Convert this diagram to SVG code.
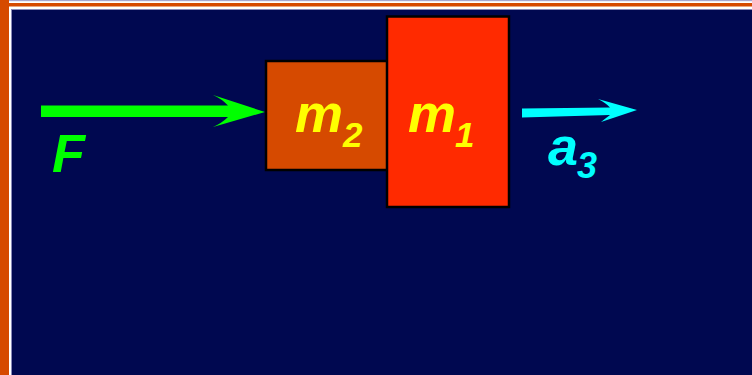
<svg xmlns="http://www.w3.org/2000/svg" width="752" height="375" viewBox="0 0 752 375">
  <style>
    .lbl { font-family: "Liberation Sans", Arial, sans-serif; font-weight: bold; font-style: italic; }
    .blk { stroke: #000000; stroke-width: 2.5; }
  </style>
  <g id="frame">
    <rect x="0" y="0" width="752" height="375" fill="#ffffff"/>
    <rect x="7" y="0" width="745" height="1.2" fill="#a8a8d0"/>
    <rect x="0" y="0" width="9" height="375" fill="#d64a00"/>
    <rect x="0" y="3" width="752" height="3.5" fill="#d64a00"/>
    <rect x="11.5" y="9.5" width="741" height="366" fill="#000850" stroke="#8a8ab8" stroke-width="1"/>
  </g>
  <g id="connectors">
    <path d="M41,105.5 L228,105.5 Q222,99 213,95 L265,112 L213,127 Q222,123 228,117 L41,117 Z" fill="#00ff00"/>
    <path d="M522,108.5 L610,107.5 Q606,103 598,99 L637,110 L601,122 Q606,118 610,115 L522,117.5 Z" fill="#00ffff"/>
  </g>
  <g id="m2">
    <rect class="blk" x="266" y="61" width="122" height="109" fill="#d64a00"/>
    <text class="lbl" x="295" y="132" font-size="54" fill="#ffff00">m</text>
    <text class="lbl" x="343" y="146.5" font-size="35" fill="#ffff00">2</text>
  </g>
  <g id="m1">
    <rect class="blk" x="387" y="16.5" width="122" height="190.5" fill="#ff2a00"/>
    <text class="lbl" x="408" y="132" font-size="54" fill="#ffff00">m</text>
    <text class="lbl" x="455" y="146.5" font-size="35" fill="#ffff00">1</text>
  </g>
  <g id="F">
    <text class="lbl" x="52" y="172" font-size="54" fill="#00ff00">F</text>
  </g>
  <g id="a3">
    <text class="lbl" x="548" y="165" font-size="54" fill="#00ffff">a</text>
    <text class="lbl" x="577" y="178" font-size="36" fill="#00ffff">3</text>
  </g>
</svg>
